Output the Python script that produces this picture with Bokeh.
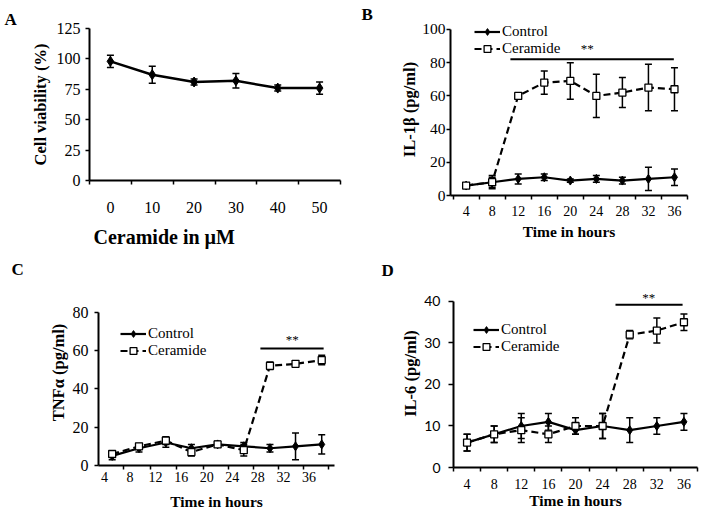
from bokeh.plotting import figure
from bokeh.models import (ColumnDataSource, Whisker, TeeHead, Label, Legend, LegendItem,
                          FixedTicker, Range1d, Title)
from bokeh.layouts import column, row
from bokeh.embed import file_html
from bokeh.resources import INLINE

SERIF = "Liberation Serif"

# ---------------- Panel A data ----------------
a_conc = [0, 10, 20, 30, 40, 50]
a_viability = [98, 87, 81, 82, 76, 76]
a_viability_err = [5, 7, 2.5, 6, 2.5, 5]
a_yticks = [0, 25, 50, 75, 100, 125]
a_xbounds = [-5, 5, 15, 25, 35, 45, 55]

# ---------------- Panel B data ----------------
b_hours = [4, 8, 12, 16, 20, 24, 28, 32, 36]
b_control = [6, 8, 10, 11, 9, 10, 9, 10, 11]
b_control_err = [1.5, 4, 3, 2, 1, 2, 2, 7, 5]
b_ceramide = [6, 8, 60, 68, 69, 60, 62, 65, 64]
b_ceramide_err = [1.5, 3, 1.5, 7, 11, 13, 9, 14, 13]
b_yticks = [0, 20, 40, 60, 80, 100]
b_xticks = [4, 8, 12, 16, 20, 24, 28, 32, 36]
b_xbounds = [2, 6, 10, 14, 18, 22, 26, 30, 34, 38]
b_sig_x = [10.8, 35.9]
b_sig_y = 82
b_star = (22.6, 88.5)

# ---------------- Panel C data ----------------
c_hours = [5.2, 9.4, 13.6, 17.6, 21.7, 25.8, 29.9, 33.9, 38.0]
c_control = [5, 9, 12, 9, 11, 10, 9, 10, 11]
c_control_err = [2, 2, 2.5, 2, 1.5, 2, 2, 7, 5]
c_ceramide = [6, 10, 13, 7, 11, 8, 52, 53, 55]
c_ceramide_err = [1.5, 1.5, 2, 2, 1.5, 3, 2, 1.5, 2.5]
c_yticks = [0, 20, 40, 60, 80]
c_xticks = [4, 8, 12, 16, 20, 24, 28, 32, 36]
c_xminor = [7, 11.2, 15.3, 19.5, 23.4, 27.3, 31.3, 35.2, 39.1]
c_sig_x = [28.4, 38.3]
c_sig_y = 61
c_star = (33.4, 65.7)

# ---------------- Panel D data ----------------
d_hours = [4, 8, 12, 16, 20, 24, 28, 32, 36]
d_control = [6, 8, 10, 11, 9, 10, 9, 10, 11]
d_control_err = [2, 2, 3, 2, 1, 3, 3, 2, 2]
d_ceramide = [6, 8, 9, 8, 10, 10, 32, 33, 35]
d_ceramide_err = [2, 2, 3, 2, 2, 3, 1, 3, 2]
d_yticks = [0, 10, 20, 30, 40]
d_xticks = [4, 8, 12, 16, 20, 24, 28, 32, 36]
d_xbounds = [2, 6, 10, 14, 18, 22, 26, 30, 34, 38]
d_sig_x = [25.9, 35.8]
d_sig_y = 39.2
d_star = (30.8, 41)


def make_fig(w, h, xr, yr, bl, br, bt, bb):
    p = figure(width=w, height=h, x_range=Range1d(*xr), y_range=Range1d(*yr),
               output_backend="svg", toolbar_location=None,
               min_border_left=bl, min_border_right=br,
               min_border_top=bt, min_border_bottom=bb)
    p.frame_align = False
    p.xgrid.visible = False
    p.ygrid.visible = False
    p.outline_line_color = None
    p.background_fill_color = "white"
    p.border_fill_color = "white"
    for ax in (p.xaxis[0], p.yaxis[0]):
        ax.axis_line_width = 2
        ax.axis_line_color = "black"
        ax.major_tick_line_color = "black"
        ax.minor_tick_line_color = "black"
        ax.major_tick_line_width = 1.5
        ax.minor_tick_line_width = 1.5
        ax.major_label_text_font = SERIF
        ax.major_label_text_color = "black"
        ax.axis_label_text_font = SERIF
        ax.axis_label_text_font_style = "bold"
        ax.axis_label_text_color = "black"
    return p


def setup_axes(p, xticks, xminor, yticks, xfs, yfs, xstand, ystand, ytick_out,
               xlabel, ylabel, xlab_stand, ylab_stand, ylabel_fs="16.5px", yfont=SERIF,
               ybounds="auto"):
    xa = p.xaxis[0]
    xa.ticker = FixedTicker(ticks=xticks, minor_ticks=xminor)
    xa.major_tick_in = 0
    xa.major_tick_out = 0
    xa.minor_tick_in = 0
    xa.minor_tick_out = 4
    xa.major_label_text_font_size = xfs
    xa.major_label_standoff = xstand
    if xlabel:
        xa.axis_label = xlabel
        xa.axis_label_text_font_size = "15.5px"
        xa.axis_label_standoff = xlab_stand
    ya = p.yaxis[0]
    ya.ticker = FixedTicker(ticks=yticks)
    ya.bounds = ybounds
    ya.major_tick_in = 0
    ya.major_tick_out = ytick_out
    ya.minor_tick_out = 0
    ya.minor_tick_in = 0
    ya.major_label_text_font_size = yfs
    ya.major_label_text_font = yfont
    ya.major_label_standoff = ystand
    ya.axis_label = ylabel
    ya.axis_label_text_font_size = ylabel_fs
    ya.axis_label_standoff = ylab_stand


def add_series(p, x, y, err, kind):
    src = ColumnDataSource(dict(x=x, y=y,
                                upper=[a + b for a, b in zip(y, err)],
                                lower=[a - b for a, b in zip(y, err)]))
    wk = Whisker(source=src, base="x", upper="upper", lower="lower",
                 line_width=1.5, line_color="black",
                 upper_head=TeeHead(size=7, line_width=1.5, line_color="black"),
                 lower_head=TeeHead(size=7, line_width=1.5, line_color="black"))
    p.add_layout(wk)
    if kind == "control":
        ln = p.line("x", "y", source=src, line_width=2.2, line_color="black")
        mk = p.scatter("x", "y", source=src, marker="diamond", size=9,
                       fill_color="black", line_color="black")
    else:
        ln = p.line("x", "y", source=src, line_width=2.2, line_color="black",
                    line_dash="7 4")
        mk = p.scatter("x", "y", source=src, marker="square", size=7,
                       fill_color="white", line_color="black", line_width=1.3)
    return ln, mk


def add_legend(p, rc, rk, loc):
    lg = Legend(items=[LegendItem(label="Control", renderers=list(rc)),
                       LegendItem(label="Ceramide", renderers=list(rk))],
                location=loc, glyph_width=26, glyph_height=17, label_height=17,
                label_standoff=2, spacing=0, padding=0, margin=0,
                border_line_color=None, background_fill_alpha=0,
                label_text_font=SERIF, label_text_font_size="15px",
                label_text_color="black")
    p.add_layout(lg)


def add_sig(p, xs, y, star):
    src = ColumnDataSource(dict(x0=[xs[0]], x1=[xs[1]], y=[y]))
    p.segment(x0="x0", y0="y", x1="x1", y1="y", source=src, line_width=2, line_color="black")
    p.add_layout(Label(x=star[0], y=star[1], text="**", text_font=SERIF,
                       text_font_size="13px", text_align="center",
                       text_baseline="middle", text_color="black"))


def panel_letter(p, letter, offset, standoff):
    p.add_layout(Title(text=letter, align="left", offset=offset, standoff=standoff,
                       text_font=SERIF, text_font_style="bold", text_font_size="17px",
                       text_color="black"), "above")


# ---------------- Panel A ----------------
pA = make_fig(353, 256, (-5, 55), (0, 125), 89, 13, 28, 76)
setup_axes(pA, a_conc, a_xbounds, a_yticks, "16px", "16px", 17, 5, 4,
           None, "Cell viability (%)", 0, 4)
srcA = ColumnDataSource(dict(x=a_conc, y=a_viability,
                             upper=[a + b for a, b in zip(a_viability, a_viability_err)],
                             lower=[a - b for a, b in zip(a_viability, a_viability_err)]))
pA.add_layout(Whisker(source=srcA, base="x", upper="upper", lower="lower",
                      line_width=1.5, line_color="black",
                      upper_head=TeeHead(size=7, line_width=1.5, line_color="black"),
                      lower_head=TeeHead(size=7, line_width=1.5, line_color="black")))
pA.line("x", "y", source=srcA, line_width=2.5, line_color="black")
pA.scatter("x", "y", source=srcA, marker="diamond", size=10, fill_color="black",
           line_color="black")
pA.add_layout(Title(text="Ceramide in µM", align="left", offset=4, standoff=16,
                    text_font=SERIF, text_font_style="bold", text_font_size="20px",
                    text_color="black"), "below")
panel_letter(pA, "A", -85, 0)

# ---------------- Panel B ----------------
pB = make_fig(354, 256, (1.6, 38.0), (0, 103.6), 97, 20, 23, 61)
setup_axes(pB, b_xticks, b_xbounds, b_yticks, "14px", "15.5px", 6, 1, 4,
           "Time in hours", "IL-1β (pg/ml)", 4, 0, ybounds=(0, 100))
rc = add_series(pB, b_hours, b_control, b_control_err, "control")
rk = add_series(pB, b_hours, b_ceramide, b_ceramide_err, "ceramide")
add_legend(pB, rc, rk, (24, 138))
add_sig(pB, b_sig_x, b_sig_y, b_star)
panel_letter(pB, "B", -89, 0)

# ---------------- Panel C ----------------
pC = make_fig(353, 256, (3.06, 40.0), (0, 97.0), 98, 19, 23, 45)
setup_axes(pC, c_xticks, c_xminor, c_yticks, "14px", "16px", 2, 6, 4,
           "Time in hours", "TNFα (pg/ml)", 8, 2, ybounds=(0, 80))
rc = add_series(pC, c_hours, c_control, c_control_err, "control")
rk = add_series(pC, c_hours, c_ceramide, c_ceramide_err, "ceramide")
add_legend(pC, rc, rk, (22, 106))
add_sig(pC, c_sig_x, c_sig_y, c_star)
panel_letter(pC, "C", -87, 2)

# ---------------- Panel D ----------------
pD = make_fig(354, 256, (2, 38), (0, 45.3), 100, 10, 23, 45)
setup_axes(pD, d_xticks, d_xbounds, d_yticks, "14px", "14px", 7, 8, 5,
           "Time in hours", "IL-6 (pg/ml)", 0, 1, yfont="Lato", ybounds=(0, 40))
rc = add_series(pD, d_hours, d_control, d_control_err, "control")
rk = add_series(pD, d_hours, d_ceramide, d_ceramide_err, "ceramide")
add_legend(pD, rc, rk, (20, 112))
add_sig(pD, d_sig_x, d_sig_y, d_star)
panel_letter(pD, "D", -72, 0)

layout = column(row(pA, pB), row(pC, pD))
open("out.html", "w").write(file_html(layout, INLINE))
